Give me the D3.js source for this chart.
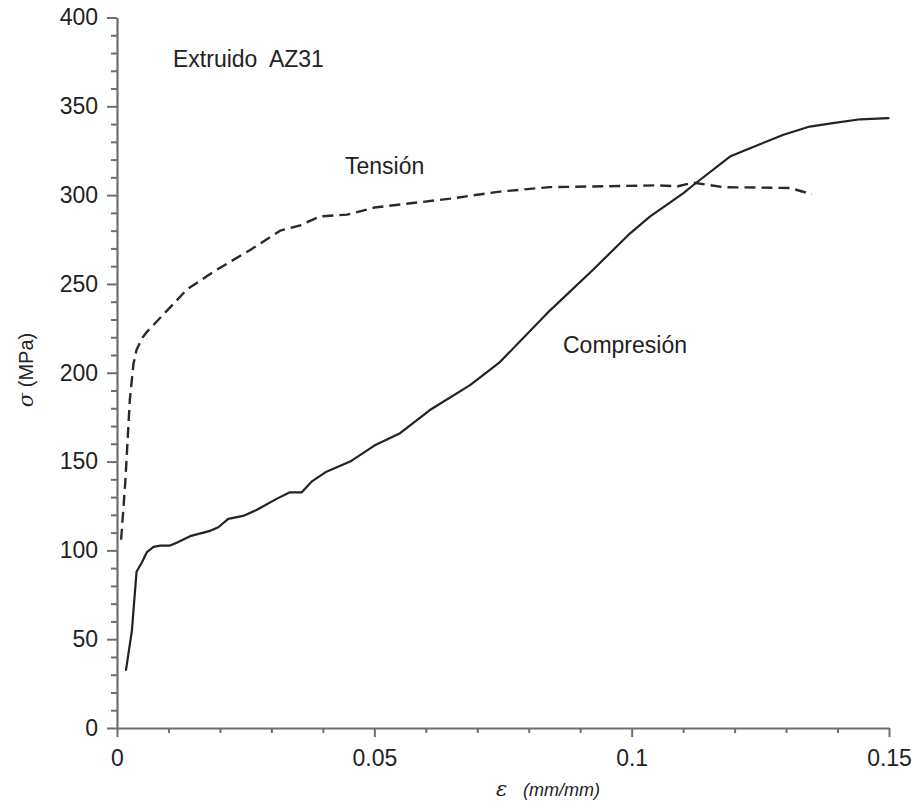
<!DOCTYPE html>
<html>
<head>
<meta charset="utf-8">
<script src="https://cdn.jsdelivr.net/npm/d3@7"></script>
<style>
  html, body { margin: 0; padding: 0; background: #fff; }
  svg { display: block; }
  text { font-family: "Liberation Sans", Arial, Helvetica, sans-serif; fill: #222; }
</style>
</head>
<body>
<svg id="chart" width="917" height="805"></svg>
<script>
// ---- Data (strain mm/mm, stress MPa) ----
const tensionStrain = [0.0008, 0.0016, 0.0025, 0.0032, 0.0038, 0.005, 0.0058, 0.0117, 0.0136, 0.0194, 0.0258, 0.0317, 0.0356, 0.0394, 0.0447, 0.05, 0.0647, 0.0744, 0.0841, 0.095, 0.105, 0.109, 0.112, 0.1177, 0.1308, 0.135];
const tensionStress = [106, 138, 185, 205, 213, 220, 223, 241, 247, 258, 269, 280, 283, 288, 289, 293, 298, 302, 304.5, 305, 305.5, 305, 307, 304.5, 304, 300.5];

const compStrain = [0.00175, 0.0029, 0.0038, 0.0048, 0.0058, 0.0071, 0.0084, 0.0103, 0.0116, 0.0142, 0.0181, 0.0197, 0.0216, 0.0245, 0.0271, 0.031, 0.0336, 0.0359, 0.0378, 0.0407, 0.0453, 0.05, 0.055, 0.0608, 0.0686, 0.0744, 0.0841, 0.0925, 0.0997, 0.1036, 0.11, 0.112, 0.1191, 0.123, 0.1295, 0.1346, 0.1391, 0.1444, 0.1499];
const compStress = [32.7, 55, 88, 93, 99, 102, 102.7, 102.7, 104.3, 108, 111, 113, 117.7, 119.4, 122.7, 129, 132.7, 132.7, 138.7, 144.3, 150, 159, 166, 179, 193, 206, 235, 258, 278.5, 288, 301, 305.7, 321.7, 326.4, 334, 338.6, 340.5, 342.7, 343.3];

const xMajorTicks = [0, 0.05, 0.1, 0.15];
const xTickLabels = ["0", "0.05", "0.1", "0.15"];
const yMajorTicks = [0, 50, 100, 150, 200, 250, 300, 350, 400];
const yTickLabels = ["0", "50", "100", "150", "200", "250", "300", "350", "400"];

const titleText = "Extruido  AZ31";
const tensionLabel = "Tensión";
const compLabel = "Compresión";

// ---- Scales ----
const svg = d3.select("#chart");
const x = d3.scaleLinear().domain([0, 0.15]).range([117, 889]);
const y = d3.scaleLinear().domain([0, 400]).range([728, 17.5]);

const axisColor = "#6e6e6e";
const tickFont = 23;

// minor ticks
const xMinor = d3.range(0, 0.1501, 0.01).filter(v => !xMajorTicks.some(m => Math.abs(m - v) < 1e-9));
const yMinor = d3.range(0, 401, 10).filter(v => v % 50 !== 0);

svg.append("g").attr("transform", "translate(0,728)")
  .call(d3.axisBottom(x).tickValues(xMinor).tickSize(5).tickSizeOuter(0).tickFormat(""))
  .call(g => g.select(".domain").remove());
svg.append("g").attr("transform", "translate(117,0)")
  .call(d3.axisLeft(y).tickValues(yMinor).tickSize(6).tickSizeOuter(0).tickFormat(""))
  .call(g => g.select(".domain").remove());

const xAxis = svg.append("g").attr("transform", "translate(0,728)")
  .call(d3.axisBottom(x).tickValues(xMajorTicks).tickSize(9).tickPadding(13).tickSizeOuter(0)
    .tickFormat((d, i) => xTickLabels[i]));
const yAxis = svg.append("g").attr("transform", "translate(117,0)")
  .call(d3.axisLeft(y).tickValues(yMajorTicks).tickSize(10).tickPadding(9).tickSizeOuter(0)
    .tickFormat((d, i) => yTickLabels[i]));

svg.selectAll(".tick line").attr("stroke", axisColor).attr("stroke-width", 2);
svg.selectAll(".domain").attr("stroke", axisColor).attr("stroke-width", 2.2);
[xAxis, yAxis].forEach(a => a.selectAll("text")
  .attr("font-size", tickFont)
  .attr("font-family", "'Liberation Sans', Arial, sans-serif")
  .attr("fill", "#3a3a3a"));

// ---- Lines ----
const tension = tensionStrain.map((s, i) => [s, tensionStress[i]]);
const comp = compStrain.map((s, i) => [s, compStress[i]]);
const lineLinear = d3.line().x(d => x(d[0])).y(d => y(d[1]));

svg.append("path").datum(tension)
  .attr("d", lineLinear)
  .attr("fill", "none").attr("stroke", "#2a2a2a").attr("stroke-width", 2.4)
  .attr("stroke-dasharray", "11,6").attr("stroke-linejoin", "round");

svg.append("path").datum(comp)
  .attr("d", lineLinear)
  .attr("fill", "none").attr("stroke", "#222").attr("stroke-width", 2.2)
  .attr("stroke-linejoin", "round").attr("stroke-linecap", "round");

// ---- Annotations ----
svg.append("text").attr("x", 173).attr("y", 67).attr("font-size", 23)
  .attr("xml:space", "preserve").style("white-space", "pre").text(titleText);
svg.append("text").attr("x", 345).attr("y", 174).attr("font-size", 23).text(tensionLabel);
svg.append("text").attr("x", 563).attr("y", 353).attr("font-size", 23).text(compLabel);

// y label
const yl = svg.append("text").attr("transform", "translate(33,370) rotate(-90)")
  .attr("text-anchor", "middle").attr("font-size", 20).attr("fill", "#333");
yl.append("tspan").attr("font-family", "'DejaVu Serif', 'Liberation Serif', serif").attr("font-style", "italic").attr("font-size", 21).text("σ");
yl.append("tspan").text(" (MPa)");

// x label
const xl = svg.append("text").attr("x", 496).attr("y", 796).attr("font-size", 18).attr("fill", "#333");
xl.append("tspan").attr("font-family", "'DejaVu Serif', 'Liberation Serif', serif").attr("font-style", "italic").attr("font-size", 21).text("ε");
xl.append("tspan").attr("x", 523).attr("font-style", "italic").text("(mm/mm)");
</script>
</body>
</html>
